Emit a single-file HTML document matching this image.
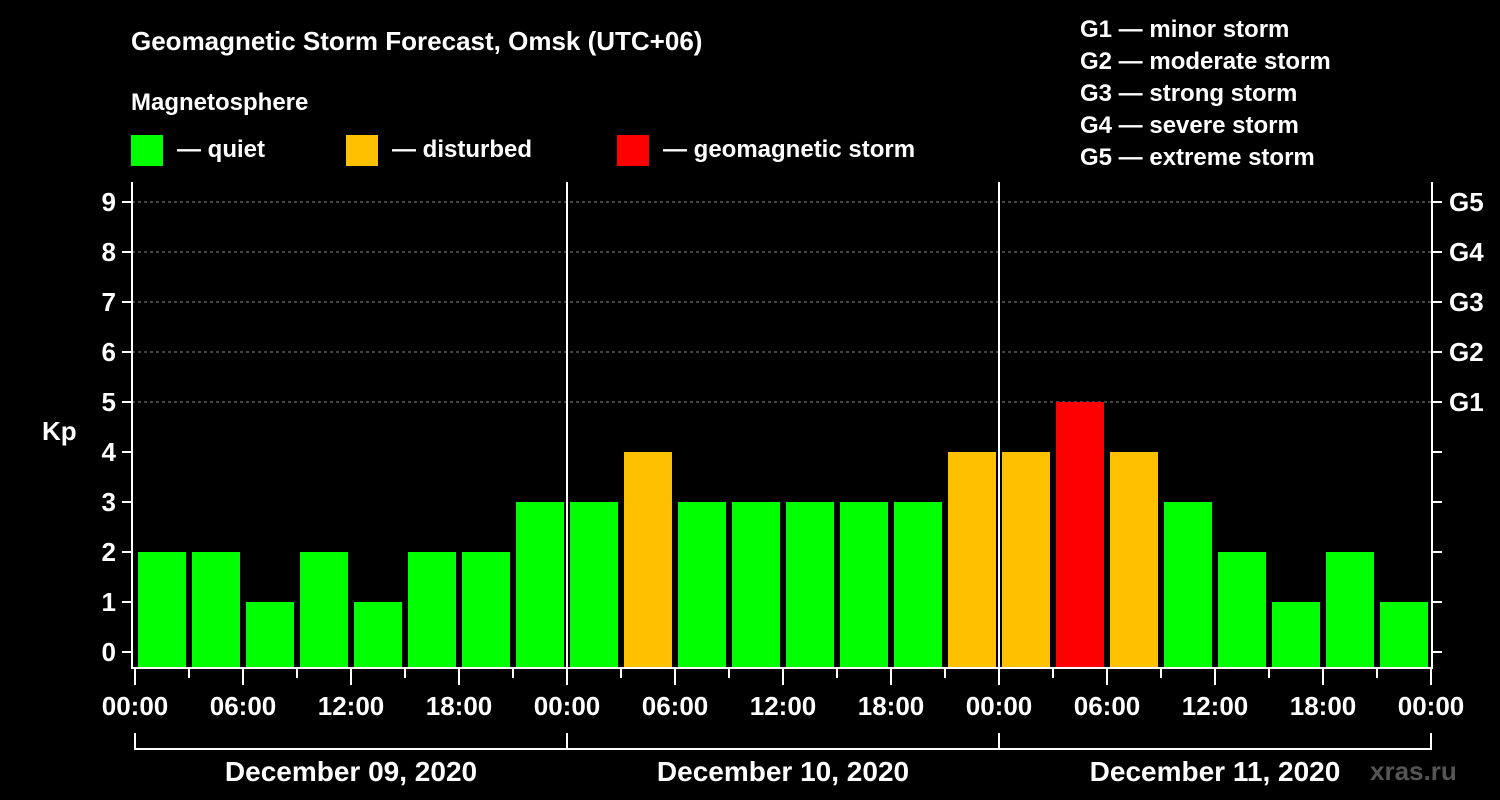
<!DOCTYPE html>
<html><head><meta charset="utf-8"><style>
body{margin:0;background:#000;}
svg{display:block;font-family:"Liberation Sans",Arial,sans-serif;font-weight:bold;}
</style></head><body>
<svg width="1500" height="800" viewBox="0 0 1500 800">
<rect width="1500" height="800" fill="#000"/>
<text x="131" y="50" fill="#fff" font-size="26">Geomagnetic Storm Forecast, Omsk (UTC+06)</text>
<text x="131" y="110" fill="#fff" font-size="24">Magnetosphere</text>
<g font-size="24" fill="#fff">
<rect x="131" y="135" width="32" height="31" fill="#00ff00"/>
<text x="177" y="157">— quiet</text>
<rect x="346" y="135" width="32" height="31" fill="#ffc000"/>
<text x="392" y="157">— disturbed</text>
<rect x="617" y="135" width="32" height="31" fill="#ff0000"/>
<text x="663" y="157">— geomagnetic storm</text>
</g>
<g font-size="24" fill="#fff">
<text x="1080" y="37">G1 — minor storm</text>
<text x="1080" y="69">G2 — moderate storm</text>
<text x="1080" y="101">G3 — strong storm</text>
<text x="1080" y="133">G4 — severe storm</text>
<text x="1080" y="165">G5 — extreme storm</text>
</g>
<text x="42" y="440" fill="#fff" font-size="26">Kp</text>
<text x="1370" y="780" fill="#555" font-size="26">xras.ru</text>
<g id="plot"></g>
</svg>
<script>
const values=[2,2,1,2,1,2,2,3,3,4,3,3,3,3,3,4,4,5,4,3,2,1,2,1];
const yTicks=[0,1,2,3,4,5,6,7,8,9];
const gLabels=["G1","G2","G3","G4","G5"];
const gLevels=[5,6,7,8,9];
const timeLabels=["00:00","06:00","12:00","18:00","00:00","06:00","12:00","18:00","00:00","06:00","12:00","18:00","00:00"];
const dayLabels=["December 09, 2020","December 10, 2020","December 11, 2020"];
const L=132,R=1432,T=182,B=668,X0=135,SLOT=54;
const y=v=>652-v*50;
const x=i=>X0+i*SLOT;
const NS="http://www.w3.org/2000/svg";
const g=document.getElementById('plot');
function mk(t,a,p){const e=document.createElementNS(NS,t);for(const k in a)e.setAttribute(k,a[k]);(p||g).appendChild(e);return e;}
gLevels.forEach(v=>{const e=mk('line',{x1:L,x2:R,y1:y(v),y2:y(v),stroke:'#888','stroke-dasharray':'3,3','stroke-width':1});

});
values.forEach((v,i)=>{const c=v>=5?'#ff0000':v==4?'#ffc000':'#00ff00';
const e=mk('rect',{x:x(i)+3,y:y(v),width:48,height:B-y(v),fill:c});

});
[1,2].forEach(d=>{const e=mk('line',{x1:x(d*8),x2:x(d*8),y1:T,y2:B,stroke:'#fff','stroke-width':2});

});
const fr=mk('path',{d:`M${L} ${T}V${B}H${R}V${T}`,fill:'none',stroke:'#fff','stroke-width':2});


yTicks.forEach(v=>{mk('line',{x1:L-10,x2:L,y1:y(v),y2:y(v),stroke:'#fff','stroke-width':2});
mk('line',{x1:R,x2:R+10,y1:y(v),y2:y(v),stroke:'#fff','stroke-width':2});
const t=mk('text',{x:L-16,y:y(v)+9,fill:'#fff','font-size':26,'text-anchor':'end'});t.textContent=v;

});
gLevels.forEach((v,i)=>{const t=mk('text',{x:1449,y:y(v)+9,fill:'#fff','font-size':26});t.textContent=gLabels[i];

});
for(let i=0;i<=24;i++){const maj=i%2==0;mk('line',{x1:x(i),x2:x(i),y1:B,y2:B+(maj?17:10),stroke:'#fff','stroke-width':2});}
timeLabels.forEach((s,i)=>{const t=mk('text',{x:x(i*2),y:715,fill:'#fff','font-size':26,'text-anchor':'middle'});t.textContent=s;

});
const br=mk('path',{d:`M${x(0)} 733V749H${x(24)}V733M${x(8)} 733V749M${x(16)} 733V749`,fill:'none',stroke:'#fff','stroke-width':2});


dayLabels.forEach((s,i)=>{const t=mk('text',{x:x(i*8+4),y:781,fill:'#fff','font-size':28,'text-anchor':'middle'});t.textContent=s;

});
</script>
</body></html>
